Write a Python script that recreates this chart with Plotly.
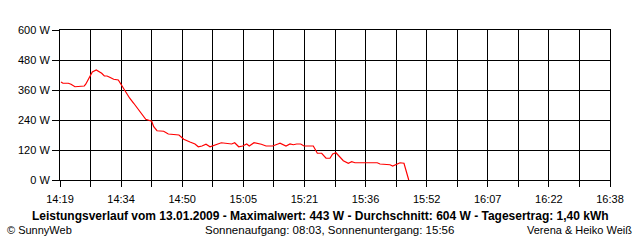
import pandas as pd
import plotly.graph_objects as go

DATE = "2009-01-13"
times = ["14:19:15", "14:19:45", "14:21:06", "14:21:47", "14:22:47", "14:23:48", "14:25:08",
         "14:25:30", "14:26:09", "14:26:50", "14:27:10", "14:28:10", "14:28:51", "14:29:32",
         "14:30:12", "14:30:53", "14:31:34", "14:32:34", "14:33:44", "14:34:14", "14:34:55",
         "14:35:45", "14:36:37", "14:37:38", "14:38:38", "14:39:39", "14:40:40", "14:42:10",
         "14:42:41", "14:43:31", "14:45:12", "14:46:22", "14:48:04", "14:49:04", "14:50:16",
         "14:50:50", "14:51:51", "14:53:07", "14:53:57", "14:54:53", "14:55:54", "14:56:55",
         "14:58:10", "14:59:06", "14:59:46", "15:02:23", "15:03:09", "15:04:10", "15:05:10",
         "15:06:11", "15:06:50", "15:08:02", "15:09:13", "15:09:53", "15:11:04", "15:12:45",
         "15:14:05", "15:14:36", "15:16:07", "15:17:08", "15:17:58", "15:18:49", "15:19:50",
         "15:20:40", "15:23:01", "15:24:02", "15:25:08", "15:26:14", "15:27:14", "15:27:55",
         "15:28:45", "15:29:35", "15:30:36", "15:31:52", "15:32:43", "15:33:33", "15:39:11",
         "15:39:52", "15:42:24", "15:43:05", "15:44:05", "15:44:56", "15:45:56", "15:47:08"]
power = [392, 387, 387, 383, 373, 373, 376,
         383, 400, 420, 432, 440, 433, 427,
         416, 416, 411, 403, 400, 387, 371,
         347, 327, 307, 287, 267, 243, 235,
         213, 197, 195, 184, 180, 180, 163,
         160, 152, 144, 133, 136, 143, 133,
         139, 144, 149, 144, 149, 133, 136,
         144, 136, 149, 147, 143, 136, 136,
         144, 147, 136, 144, 141, 144, 144,
         136, 136, 107, 107, 87, 87, 104,
         109, 93, 77, 67, 73, 69, 69,
         64, 61, 56, 64, 69, 67, 0]

x_start = "14:19"
x_end = "16:38"
x_labels = ["14:19", "14:34", "14:50", "15:05", "15:21", "15:36", "15:52", "16:07", "16:22", "16:38"]
y_ticks = [0, 120, 240, 360, 480, 600]
y_labels = ["0 W", "120 W", "240 W", "360 W", "480 W", "600 W"]

title_text = "Leistungsverlauf vom 13.01.2009 - Maximalwert: 443 W - Durchschnitt: 604 W - Tagesertrag: 1,40 kWh"
left_text = "© SunnyWeb"
mid_text = "Sonnenaufgang: 08:03, Sonnenuntergang: 15:56"
right_text = "Verena & Heiko Weiß"

xs = pd.to_datetime([f"{DATE} {t}" for t in times])
t0 = pd.Timestamp(f"{DATE} {x_start}")
t1 = pd.Timestamp(f"{DATE} {x_end}")
n = 18
tickvals = [t0 + (t1 - t0) * k / n for k in range(n + 1)]
ticktext = [x_labels[k // 2] if k % 2 == 0 else "" for k in range(n + 1)]

FONT = "Liberation Sans"

fig = go.Figure()
fig.add_trace(go.Scatter(x=xs, y=power, mode="lines",
                         line=dict(color="#ff0000", width=1.2), hoverinfo="skip"))

fig.update_layout(
    width=640, height=240,
    margin=dict(l=60, r=30, t=30, b=60),
    paper_bgcolor="white", plot_bgcolor="white",
    showlegend=False,
    font=dict(family=FONT, size=11, color="black"),
    xaxis=dict(range=[t0, t1], tickmode="array", tickvals=tickvals, ticktext=ticktext,
               showgrid=True, gridcolor="black", gridwidth=1,
               ticks="outside", ticklen=6, tickcolor="black", tickwidth=1,
               ticklabelstandoff=3,
               showline=True, linecolor="black", linewidth=1, mirror=True,
               zeroline=False, tickfont=dict(size=11)),
    yaxis=dict(range=[0, 600], tickmode="array", tickvals=y_ticks, ticktext=y_labels,
               showgrid=True, gridcolor="black", gridwidth=1,
               ticks="outside", ticklen=7, tickcolor="black", tickwidth=1,
               showline=True, linecolor="black", linewidth=1, mirror=True,
               zeroline=False, tickfont=dict(size=11)),
)

def px_x(p):
    return (p - 60) / 550.0

def px_y(p):
    return (180 - p) / 150.0

fig.add_annotation(text=f"<b>{title_text}</b>", xref="paper", yref="paper",
                   x=px_x(320), y=px_y(215.5), xanchor="center", yanchor="middle",
                   showarrow=False, font=dict(size=12, family=FONT))
fig.add_annotation(text=left_text, xref="paper", yref="paper",
                   x=px_x(5), y=px_y(230), xanchor="left", yanchor="middle",
                   showarrow=False, font=dict(size=11, family=FONT))
fig.add_annotation(text=mid_text, xref="paper", yref="paper",
                   x=px_x(203), y=px_y(230), xanchor="left", yanchor="middle",
                   showarrow=False, font=dict(size=11.5, family=FONT))
fig.add_annotation(text=right_text, xref="paper", yref="paper",
                   x=px_x(634), y=px_y(230), xanchor="right", yanchor="middle",
                   showarrow=False, font=dict(size=11, family=FONT))

fig.write_html("out.html")
